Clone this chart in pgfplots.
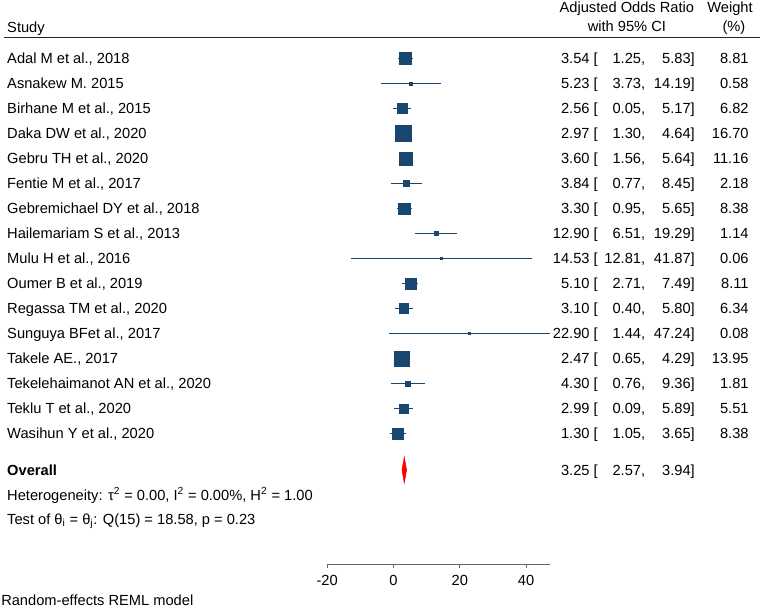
\documentclass[border=0pt]{standalone}
\usepackage{fontspec}
\setmainfont{Liberation Sans}
\usepackage{pgfplots}
\usepackage{pgfplotstable}
\pgfplotsset{compat=1.18}
\definecolor{navy}{RGB}{26,71,111}

% row, effect size, CI as drawn, weight (%)
\pgfplotstableread{
row es lo hi w
1  3.54   1.25  5.83  8.81
2  5.23  -3.73 14.19  0.58
3  2.56  -0.05  5.17  6.82
4  2.97   1.30  4.64 16.70
5  3.60   1.56  5.64 11.16
6  3.84  -0.77  8.45  2.18
7  3.30   0.95  5.65  8.38
8  12.90  6.51 19.29  1.14
9  14.53 -12.81 41.87 0.06
10 5.10   2.71  7.49  8.11
11 3.10   0.40  5.80  6.34
12 22.90 -1.44 47.24  0.08
13 2.47   0.65  4.29 13.95
14 4.30  -0.76  9.36  1.81
15 2.99   0.09  5.89  5.51
16 1.30  -1.05  3.65  8.38
}\studies

\newcommand\studyrow[6]{%
  \node[lbl,anchor=west] at (axis cs:-116.6,#1) {#2};
  \node[lbl,anchor=east] at (axis cs:61.7,#1) {#3 [};
  \node[lbl,anchor=east] at (axis cs:76.0,#1) {#4,};
  \node[lbl,anchor=east] at (axis cs:90.95,#1) {#5]};
  \node[lbl,anchor=east] at (axis cs:107.2,#1) {#6};
}

\begin{document}
\begin{tikzpicture}[font=\fontsize{11}{13}\selectfont,
  lbl/.style={inner sep=0pt, text height=7.9pt, text depth=0pt}]
\begin{axis}[
    scale only axis,
    width=167.2pt, height=397.9pt,
    xmin=-20, xmax=47.24,
    ymin=0, ymax=21.22,
    y dir=reverse,
    enlargelimits=false,
    clip=false,
    hide y axis,
    axis x line*=bottom,
    axis line style={-, black!60, line width=0.7pt},
    xtick={-20,0,20,40},
    tick align=outside,
    major tick length=3pt,
    x tick style={black!60, line width=0.6pt},
    tick label style={font=\fontsize{11}{13}\selectfont},
    xticklabel style={yshift=-2pt},
    /pgf/number format/assume math mode=true,
]

% confidence intervals
\addplot[draw=none, mark=none, forget plot,
    error bars/.cd, x dir=both, x explicit, error mark=none,
    error bar style={draw=navy, line width=1.2pt}]
    table[x=es, y=row,
          x error plus expr=\thisrow{hi}-\thisrow{es},
          x error minus expr=\thisrow{es}-\thisrow{lo}]{\studies};

% weighted squares
\addplot[scatter, only marks, mark=square*,
    scatter/use mapped color={draw=navy, fill=navy},
    visualization depends on={\thisrow{w} \as \wt},
    scatter/@pre marker code/.append style={/tikz/mark size={max(0.7,1.47*sqrt(\wt))}}]
    table[x=es, y=row]{\studies};

% overall diamond
\addplot[draw=red, fill=red] coordinates {
    (2.57,17.46) (3.25,16.94) (3.94,17.46) (3.25,17.98)} -- cycle;

% header
\node[lbl,anchor=west] at (axis cs:-116.6,-0.25) {Study};
\node[lbl] at (axis cs:70.4,-1.07) {Adjusted Odds Ratio};
\node[lbl] at (axis cs:70.4,-0.31) {with 95\% CI};
\node[lbl] at (axis cs:101.5,-1.07) {Weight};
\node[lbl] at (axis cs:102.7,-0.31) {(\%)};
\draw[line width=0.9pt, black!85] (axis cs:-117.4,0.17) -- (axis cs:110.6,0.17);

\studyrow{1}{Adal M et al., 2018}{3.54}{1.25}{5.83}{8.81}
\studyrow{2}{Asnakew M. 2015}{5.23}{3.73}{14.19}{0.58}
\studyrow{3}{Birhane M et al., 2015}{2.56}{0.05}{5.17}{6.82}
\studyrow{4}{Daka DW et al., 2020}{2.97}{1.30}{4.64}{16.70}
\studyrow{5}{Gebru TH et al., 2020}{3.60}{1.56}{5.64}{11.16}
\studyrow{6}{Fentie M et al., 2017}{3.84}{0.77}{8.45}{2.18}
\studyrow{7}{Gebremichael DY et al., 2018}{3.30}{0.95}{5.65}{8.38}
\studyrow{8}{Hailemariam S et al., 2013}{12.90}{6.51}{19.29}{1.14}
\studyrow{9}{Mulu H et al., 2016}{14.53}{12.81}{41.87}{0.06}
\studyrow{10}{Oumer B et al., 2019}{5.10}{2.71}{7.49}{8.11}
\studyrow{11}{Regassa TM et al., 2020}{3.10}{0.40}{5.80}{6.34}
\studyrow{12}{Sunguya BFet al., 2017}{22.90}{1.44}{47.24}{0.08}
\studyrow{13}{Takele AE., 2017}{2.47}{0.65}{4.29}{13.95}
\studyrow{14}{Tekelehaimanot AN et al., 2020}{4.30}{0.76}{9.36}{1.81}
\studyrow{15}{Teklu T et al., 2020}{2.99}{0.09}{5.89}{5.51}
\studyrow{16}{Wasihun Y et al., 2020}{1.30}{1.05}{3.65}{8.38}

% overall
\node[lbl,anchor=west] at (axis cs:-116.6,17.46) {\bfseries Overall};
\node[lbl,anchor=east] at (axis cs:61.7,17.46) {3.25 [};
\node[lbl,anchor=east] at (axis cs:76.0,17.46) {2.57,};
\node[lbl,anchor=east] at (axis cs:90.95,17.46) {3.94]};

\node[lbl,anchor=west] at (axis cs:-116.6,18.46)
  {Heterogeneity: τ\textsuperscript{2} = 0.00, I\textsuperscript{2} = 0.00\%, H\textsuperscript{2} = 1.00};
\node[lbl,anchor=west] at (axis cs:-116.6,19.42)
  {Test of θ\textsubscript{i} = θ\textsubscript{j}: Q(15) = 18.58, p = 0.23};
\node[lbl,anchor=west] at (axis cs:-118.4,22.66) {Random-effects REML model};

\coordinate (bl) at (axis cs:-118.7,23.02);
\coordinate (tr) at (axis cs:111.46,-1.34);
\end{axis}
\pgfresetboundingbox
\path[use as bounding box] (bl) rectangle (tr);
\end{tikzpicture}
\end{document}
